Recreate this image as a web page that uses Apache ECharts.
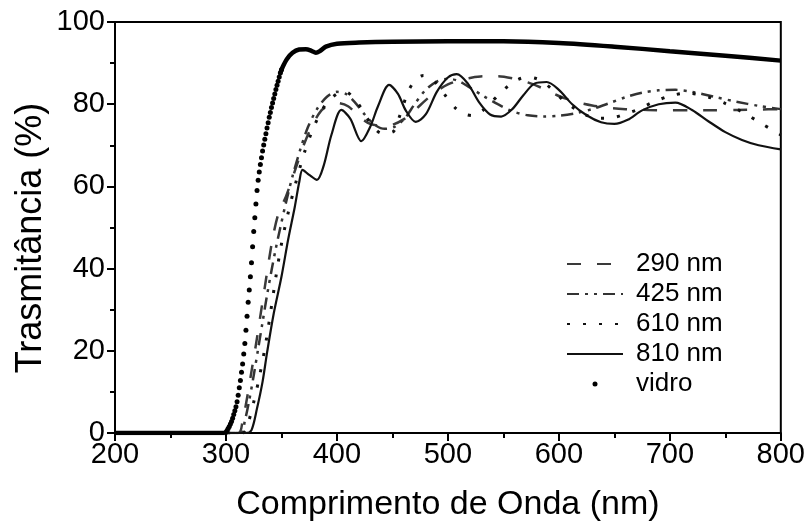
<!DOCTYPE html>
<html><head><meta charset="utf-8">
<script src="https://cdn.jsdelivr.net/npm/echarts@6/dist/echarts.min.js"></script>
<style>html,body{margin:0;padding:0;background:#fff}#c{width:808px;height:530px}</style>
</head><body><div id="c"></div>
<script>
// ---- data ----
const seriesNames = ['290 nm', '425 nm', '610 nm', '810 nm', 'vidro'];
const xTicks = [200, 300, 400, 500, 600, 700, 800];
const yTicks = [0, 20, 40, 60, 80, 100];

const x290 = [200, 311, 315, 319, 323, 327, 331, 335, 339, 343, 348, 354, 363, 370, 378, 386, 393, 400, 410, 420, 430, 440, 450, 460, 470, 480, 490, 500, 510, 520, 532, 545, 558, 572, 586, 600, 615, 630, 645, 660, 680, 700, 720, 740, 760, 780, 800];
const y290 = [0, 0, 3, 8.5, 15, 21.5, 28.5, 35.5, 42.5, 48.7, 54, 57.5, 64.5, 70, 75, 78.5, 79.8, 80.3, 79.5, 77, 75.2, 74.8, 75, 76.3, 78.5, 81, 83.2, 84.8, 85.8, 86.4, 86.8, 86.8, 86.3, 85.3, 83.8, 82, 80.6, 79.7, 79.1, 78.8, 78.6, 78.5, 78.5, 78.5, 78.6, 78.7, 78.8];

const x425 = [200, 313, 317, 321, 325, 329, 333, 337, 341, 345, 349, 354, 360, 367, 374, 382, 391, 400, 408, 416, 425, 434, 443, 452, 461, 470, 480, 490, 500, 510, 520, 532, 545, 558, 572, 586, 600, 615, 630, 645, 660, 675, 690, 705, 720, 740, 760, 780, 800];
const y425 = [0, 0, 3, 8, 14, 20.5, 27, 33.5, 39.5, 45, 50, 56, 62.5, 69, 74.5, 78.8, 81.8, 83, 82.5, 80.5, 77.5, 75, 74, 74.5, 76.5, 80, 83.5, 85.5, 86.2, 85.6, 84, 82, 80, 78.3, 77.3, 77, 77.2, 77.8, 78.8, 80.2, 81.7, 82.8, 83.4, 83.5, 83, 81.8, 80.6, 79.6, 78.8];

const x610 = [200, 315, 320, 325, 330, 335, 340, 345, 350, 356, 363, 371, 380, 390, 400, 408, 415, 422, 430, 440, 450, 457, 464, 471, 478, 488, 498, 507, 515, 523, 531, 539, 547, 555, 563, 571, 580, 588, 596, 604, 615, 625, 636, 650, 662, 670, 685, 700, 716, 734, 749, 766, 782, 800];
const y610 = [0, 0, 2.5, 7.5, 13.5, 20.5, 29, 38, 46, 53.5, 61, 68.5, 75, 80, 82.5, 83, 81.5, 79, 75.5, 73, 73.2, 77.5, 83, 86, 87, 85.5, 82, 79, 77.6, 77.2, 78.4, 80.5, 82.6, 84.6, 86, 86.6, 86.2, 85, 83, 81, 78.8, 77.3, 76.6, 76.8, 77.8, 78.6, 80.5, 82, 82.7, 81.8, 80.3, 78, 75.4, 72.5];

const x810 = [200, 318, 323, 328, 333, 337, 343, 350, 356, 362, 366, 369, 375, 382, 388, 395, 404, 412, 422, 430, 437, 447, 455, 462, 471, 480, 490, 500, 508, 518, 528, 538, 548, 558, 568, 578, 589, 600, 612, 625, 638, 650, 662, 675, 690, 705, 720, 735, 750, 765, 780, 800];
const y810 = [0, 0, 0.7, 6, 12.5, 19.5, 29, 38, 47, 55, 61, 64, 62.8, 61.6, 65, 72.5, 78.6, 76.5, 71, 74.5, 79.5, 84.7, 82.5, 78.5, 75.7, 77.5, 83, 86.5, 87.3, 85, 80.5, 77.5, 77, 78.8, 82.2, 85, 85.4, 83.5, 80, 77.3, 75.6, 75.2, 76.2, 78.5, 80, 80.4, 78.6, 75.8, 73.2, 71.3, 70, 69];

// glass: individual dots on the steep edge, continuous thick trace elsewhere
const xVidroDots = [300, 301, 302, 303, 304, 305, 306, 307, 308, 309, 310, 311, 312, 313, 314, 315, 316, 317, 318, 319, 320, 321, 322, 323, 324, 325, 326, 327, 328, 329, 330, 331, 332, 333, 334, 335, 336, 337, 338, 339, 340, 341, 342, 343, 344, 345, 346, 347, 348, 349, 350];
const yVidroDots = [0.2, 0.6, 1.1, 1.6, 2.2, 2.8, 3.6, 4.5, 5.4, 6.4, 7.6, 9.2, 11, 12.8, 14.8, 16.8, 19.2, 21.8, 25, 28.4, 31.8, 34.8, 38, 41.4, 45.3, 49, 52.4, 55.7, 59, 61.5, 63.5, 65.3, 67, 68.6, 70.1, 71.5, 72.8, 74.2, 75.5, 76.8, 78, 79.2, 80.3, 81.4, 82.5, 83.6, 84.6, 85.6, 86.6, 87.6, 88.4];
const xVidroLine = [200, 299, 299.5, 349, 351, 355, 360, 366, 372, 377, 381, 385, 390, 400, 420, 450, 500, 550, 600, 650, 700, 750, 800];
const yVidroLine = [0, 0, null, 87.6, 89, 91, 92.5, 93.3, 93.4, 93, 92.5, 93, 94, 94.7, 95, 95.2, 95.3, 95.3, 94.9, 94, 92.9, 91.8, 90.6];

// ---- chart ----
const zip = (xs, ys) => xs.map((x, i) => [x, ys[i]]);
const FONT = "'Liberation Sans', Arial, sans-serif";

function lineSeries(name, xs, ys, lineStyle) {
  return {
    name: name, type: 'line', data: zip(xs, ys), symbol: 'none', smooth: 0.3,
    connectNulls: false, lineStyle: lineStyle, itemStyle: { color: lineStyle.color },
    animation: false, z: 3
  };
}

const chart = echarts.init(document.getElementById('c'), null, { renderer: 'canvas' });
chart.setOption({
  backgroundColor: '#fff',
  animation: false,
  grid: { left: 115, right: 25, top: 22, bottom: 97, show: true, borderColor: '#000', borderWidth: 2, backgroundColor: 'transparent' },
  graphic: [{
    type: 'text', x: 31, y: 238, rotation: Math.PI / 2,
    style: { text: 'Trasmitância (%)', font: "36px 'Liberation Sans', Arial, sans-serif", fill: '#000', align: 'center', verticalAlign: 'middle' }
  }],
  xAxis: {
    type: 'value', min: xTicks[0], max: xTicks[xTicks.length - 1], interval: 100,
    name: 'Comprimento de Onda (nm)', nameLocation: 'middle', nameGap: 55,
    nameTextStyle: { fontFamily: FONT, fontSize: 34, color: '#000' },
    axisLine: { lineStyle: { color: '#000', width: 2 } },
    axisTick: { show: true, inside: false, length: 8, lineStyle: { color: '#000', width: 2 } },
    minorTick: { show: true, splitNumber: 2, length: 5, lineStyle: { color: '#000', width: 2 } },
    axisLabel: { fontFamily: FONT, fontSize: 29, color: '#000', margin: 7 },
    splitLine: { show: false }
  },
  yAxis: {
    type: 'value', min: yTicks[0], max: yTicks[yTicks.length - 1], interval: 20,
    axisLine: { lineStyle: { color: '#000', width: 2 } },
    axisTick: { show: true, inside: false, length: 8, lineStyle: { color: '#000', width: 2 } },
    minorTick: { show: true, splitNumber: 2, length: 5, lineStyle: { color: '#000', width: 2 } },
    axisLabel: { fontFamily: FONT, fontSize: 29, color: '#000', margin: 10 },
    splitLine: { show: false }
  },
  legend: {
    orient: 'vertical', left: 566, top: 251, padding: 0,
    itemWidth: 56, itemHeight: 5, itemGap: 4,
    itemStyle: { opacity: 0 },
    textStyle: { fontFamily: FONT, fontSize: 26, color: '#000', padding: [0, 0, 0, 8] },
    data: [
      { name: seriesNames[0] }, { name: seriesNames[1] }, { name: seriesNames[2] }, { name: seriesNames[3] },
      { name: seriesNames[4], icon: 'circle', itemStyle: { opacity: 1, color: '#000' } }
    ]
  },
  series: [
    lineSeries(seriesNames[0], x290, y290, { color: '#3a3a3a', width: 2.5, type: [14, 16] }),
    lineSeries(seriesNames[1], x425, y425, { color: '#333', width: 2.5, type: [12, 6, 3, 6, 3, 6] }),
    lineSeries(seriesNames[2], x610, y610, { color: '#111', width: 3, type: [3, 13] }),
    lineSeries(seriesNames[3], x810, y810, { color: '#111', width: 2.2, type: 'solid' }),
    {
      name: seriesNames[4], type: 'scatter', data: zip(xVidroDots, yVidroDots),
      symbol: 'circle', symbolSize: 5, itemStyle: { color: '#000', opacity: 1 }, z: 4, animation: false
    },
    {
      name: seriesNames[4], type: 'line', data: zip(xVidroLine, yVidroLine), symbol: 'none', smooth: 0.3,
      connectNulls: false, lineStyle: { color: '#000', width: 4.5 }, itemStyle: { color: '#000' }, z: 4, animation: false
    }
  ]
});
</script></body></html>
